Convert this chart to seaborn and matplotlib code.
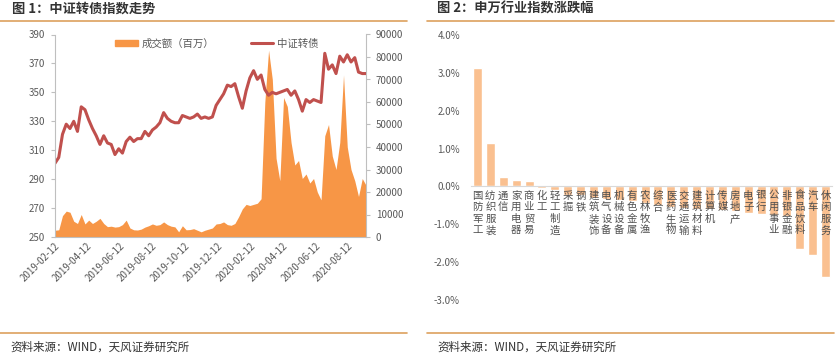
import pandas as pd
import matplotlib
matplotlib.use("Agg")
import matplotlib.pyplot as plt
import matplotlib.dates as mdates
from matplotlib.lines import Line2D
from matplotlib.patches import Patch
import seaborn as sns

# 图1：中证转债指数（周度读数）与成交额（百万）
start_date = "2019-02-12"
cb_index = [301, 305, 321, 328, 325, 330, 323, 340, 338, 331,
            325, 320, 314, 320, 315, 314, 307, 311, 308, 316,
            319, 316, 318, 318, 323, 320, 324, 326, 329, 336,
            332, 330, 329, 329, 334, 333, 332, 333, 335, 332,
            333, 332, 333, 341, 345, 349, 355, 354, 356, 347,
            339, 351, 360, 365, 359, 362, 352, 348, 350, 349,
            350, 351, 352, 348, 351, 345, 337, 345, 343, 345,
            344, 343, 377, 366, 369, 363, 375, 371, 376, 371,
            374, 364, 363, 363]
turnover = [3000, 3200, 9500, 11500, 11000, 7000, 6000, 10000, 5800, 7500,
            6000, 7000, 8300, 6000, 4600, 4800, 4400, 4600, 5500, 7500,
            4000, 3200, 3100, 3500, 4400, 5000, 5800, 5200, 5500, 6700,
            5500, 4800, 4500, 2300, 5000, 3200, 3300, 3700, 3000, 2300,
            3000, 3500, 4000, 5800, 6000, 6700, 5500, 5200, 6000, 9000,
            12500, 14500, 14000, 14500, 15000, 17000, 60000, 83000, 70000, 35000,
            25000, 62000, 58000, 42000, 32000, 34000, 26000, 28000, 24000, 26000,
            20000, 16500, 45000, 50000, 36000, 30000, 42000, 72000, 40000, 30000,
            25000, 18000, 26000, 23000]
date_ticks = ["2019-02-12", "2019-04-12", "2019-06-12", "2019-08-12", "2019-10-12",
              "2019-12-12", "2020-02-12", "2020-04-12", "2020-06-12", "2020-08-12"]

# 图2：申万行业指数涨跌幅（%）
industries = ["国防军工", "纺织服装", "通信", "家用电器", "商业贸易", "化工", "轻工制造",
              "采掘", "钢铁", "建筑装饰", "电气设备", "机械设备", "有色金属", "农林牧渔",
              "综合", "医药生物", "交通运输", "建筑材料", "计算机", "传媒", "房地产",
              "电子", "银行", "公用事业", "非银金融", "食品饮料", "汽车", "休闲服务"]
pct_change = [3.12, 1.15, 0.25, 0.18, 0.15, -0.04, -0.10,
              -0.22, -0.23, -0.30, -0.32, -0.35, -0.38, -0.45,
              -0.48, -0.55, -0.58, -0.60, -0.60, -0.62, -0.64,
              -0.70, -0.72, -0.75, -0.78, -1.65, -1.80, -2.40]

sns.set_style("white")
plt.rcParams['font.family'] = ['Noto Sans CJK SC', 'DejaVu Sans']
plt.rcParams['axes.unicode_minus'] = False

tick_color = "#595959"
spine_color = "#BFBFBF"
rule_color = "#DDA15E"

W, H = 835, 355
fig = plt.figure(figsize=(W / 100, H / 100), dpi=100)

# ---------- 图1 ----------
df1 = pd.DataFrame({"date": pd.date_range(start_date, periods=len(cb_index), freq="7D"),
                    "index": cb_index, "turnover": turnover})

ax = fig.add_axes([55 / W, 1 - 237 / H, (366 - 55) / W, (237 - 34.5) / H])
ax2 = ax.twinx()
ax2.fill_between(df1["date"], df1["turnover"], color="#F79646", lw=0)
sns.lineplot(data=df1, x="date", y="index", ax=ax, color="#C0504D", lw=2.2)
ax.set_zorder(ax2.get_zorder() + 1)
ax.patch.set_visible(False)

ax.set_ylim(250, 390)
ax.set_yticks(range(250, 391, 20))
ax2.set_ylim(0, 90000)
ax2.set_yticks(range(0, 90001, 10000))
ax.set_xlim(df1["date"].iloc[0], df1["date"].iloc[-1])
ax.set_xticks(pd.to_datetime(date_ticks))
ax.xaxis.set_major_formatter(mdates.DateFormatter("%Y-%m-%d"))
ax.set_xlabel("")
ax.set_ylabel("")

for a in (ax, ax2):
    for s in a.spines.values():
        s.set_visible(False)
    a.tick_params(labelsize=7, colors=tick_color)
ax.spines["left"].set_visible(True)
ax.spines["left"].set_color(spine_color)
ax.spines["bottom"].set_visible(True)
ax.spines["bottom"].set_color(spine_color)
ax2.spines["right"].set_visible(True)
ax2.spines["right"].set_color(spine_color)
ax.tick_params(axis="y", length=3, width=0.8, color=spine_color, pad=4)
ax2.tick_params(axis="y", length=3, width=0.8, color=spine_color, pad=4)
ax.tick_params(axis="x", length=0, pad=3)
plt.setp(ax.get_xticklabels(), rotation=45, ha="right", rotation_mode="anchor")

handles = [Patch(color="#F79646", label="成交额（百万）"),
           Line2D([], [], color="#C0504D", lw=2.2, label="中证转债")]
ax.legend(handles=handles, loc="center", bbox_to_anchor=(0.52, 0.955), ncol=2,
          frameon=False, fontsize=7.5, labelcolor=tick_color, handlelength=2.2,
          handleheight=0.5, columnspacing=3.5, handletextpad=0.3)

# ---------- 图2 ----------
df2 = pd.DataFrame({"行业": industries, "涨跌幅": pct_change})
axb = fig.add_axes([471 / W, 1 - 300 / H, (832 - 471) / W, (300 - 35) / H])
sns.barplot(data=df2, x="行业", y="涨跌幅", ax=axb, color="#FAC090",
            saturation=1, width=0.7)
axb.set_axisbelow(False)
axb.set_ylim(-3, 4)
axb.set_yticks(range(-3, 5))
axb.set_yticklabels([f"{v:.1f}%" for v in range(-3, 5)])
axb.set_xlim(-0.5, len(industries) - 0.5)
axb.set_xticks(range(len(industries)))
axb.set_xticklabels(["\n".join(s) for s in industries], linespacing=1.05)
axb.set_xlabel("")
axb.set_ylabel("")
for s in axb.spines.values():
    s.set_visible(False)
axb.spines["bottom"].set_visible(True)
axb.spines["bottom"].set_color("#D9D9D9")
axb.spines["bottom"].set_position(("data", 0))
axb.tick_params(axis="y", length=0, labelsize=7, colors=tick_color, pad=8)
axb.tick_params(axis="x", length=0, labelsize=7.5, colors="#505050", pad=3)

# ---------- 标题、分隔线、来源 ----------
fig.text(12 / W, 1 - 9 / H, "图 1：中证转债指数走势", fontsize=9.5, fontweight="bold",
         color="#333333", va="center", ha="left")
fig.text(437 / W, 1 - 9 / H, "图 2：申万行业指数涨跌幅", fontsize=9.5, fontweight="bold",
         color="#333333", va="center", ha="left")
for x0, x1 in ((0, 407), (427, 834)):
    for yy in (20.5, 333):
        fig.add_artist(Line2D([x0 / W, x1 / W], [1 - yy / H, 1 - yy / H],
                              transform=fig.transFigure, color=rule_color, lw=1.2))
fig.text(10 / W, 1 - 347 / H, "资料来源：WIND，天风证券研究所", fontsize=8.3,
         color="#333333", va="center", ha="left")
fig.text(437 / W, 1 - 347 / H, "资料来源：WIND，天风证券研究所", fontsize=8.3,
         color="#333333", va="center", ha="left")

fig.savefig("out.png", dpi=100)
